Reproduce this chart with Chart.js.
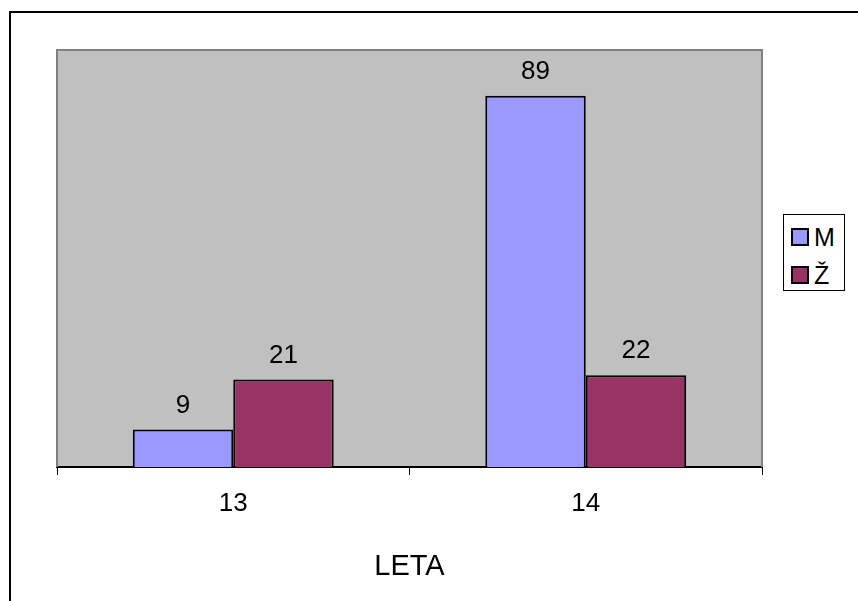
<!DOCTYPE html>
<html>
<head>
<meta charset="utf-8">
<script src="https://cdn.jsdelivr.net/npm/chart.js@4/dist/chart.umd.min.js"></script>
<style>
  html, body { margin: 0; padding: 0; background: #ffffff; }
  #wrap { position: relative; width: 858px; height: 601px; overflow: hidden; }
  #frame { position: absolute; left: 9px; top: 11px; width: 900px; height: 700px;
           border-left: 2px solid #000; border-top: 2px solid #000; pointer-events: none; }
  #legend { position: absolute; left: 783px; top: 214px; width: 62px; height: 77px;
            border: 1px solid #000; background: #fff; box-sizing: border-box;
            font-family: "Liberation Sans", Arial, sans-serif; font-size: 25px; color: #000; }
  .item { position: absolute; left: 7px; height: 20px; display: flex; align-items: center; }
  .sw { width: 14px; height: 14px; border: 2px solid #000; margin-right: 5px; }
</style>
</head>
<body>
<div id="wrap">
  <canvas id="c" width="858" height="601"></canvas>
  <div id="legend"></div>
  <div id="frame"></div>
</div>
<script>
// Age groups and counts per gender
const categories = ['13', '14'];
const seriesNames = ['M', 'Ž'];
const valuesM = [9, 89];
const valuesZ = [21, 22];
const seriesColors = ['#9999FF', '#993366'];
const axisTitle = 'LETA';
const yMax = 100;

const FONT = '"Liberation Sans", Arial, sans-serif';

// Grey plot background with a darker frame on the left, top and right
const plotBackground = {
  id: 'plotBackground',
  beforeDraw(chart) {
    const { ctx, chartArea: a } = chart;
    ctx.save();
    ctx.fillStyle = '#C0C0C0';
    ctx.fillRect(a.left, a.top, a.right - a.left, a.bottom - a.top);
    ctx.restore();
  },
  beforeDatasetsDraw(chart) {
    const { ctx, chartArea: a } = chart;
    ctx.save();
    ctx.strokeStyle = '#808080';
    ctx.lineWidth = 2;
    ctx.beginPath();
    ctx.moveTo(a.left, a.bottom);
    ctx.lineTo(a.left, a.top);
    ctx.lineTo(a.right, a.top);
    ctx.lineTo(a.right, a.bottom);
    ctx.stroke();
    ctx.restore();
  }
};

// Value labels above each bar
const valueLabels = {
  id: 'valueLabels',
  afterDatasetsDraw(chart) {
    const { ctx } = chart;
    ctx.save();
    ctx.fillStyle = '#000';
    ctx.font = '26px ' + FONT;
    ctx.textAlign = 'center';
    ctx.textBaseline = 'middle';
    chart.data.datasets.forEach((ds, i) => {
      chart.getDatasetMeta(i).data.forEach((bar, j) => {
        ctx.fillText(String(ds.data[j]), bar.x, bar.y - 24);
      });
    });
    ctx.restore();
  }
};

const chart = new Chart(document.getElementById('c'), {
  type: 'bar',
  data: {
    labels: categories,
    datasets: [
      { label: seriesNames[0], data: valuesM, backgroundColor: seriesColors[0] },
      { label: seriesNames[1], data: valuesZ, backgroundColor: seriesColors[1] }
    ]
  },
  options: {
    responsive: false,
    animation: false,
    devicePixelRatio: 1,
    layout: { padding: { left: 57, top: 50, right: 96, bottom: 0 } },
    datasets: {
      bar: {
        categoryPercentage: 0.57,
        barPercentage: 1,
        borderColor: '#000',
        borderWidth: 2,
        borderSkipped: 'start'
      }
    },
    plugins: {
      legend: { display: false },
      tooltip: { enabled: false }
    },
    scales: {
      y: { display: false, min: 0, max: yMax },
      x: {
        afterFit(scale) { scale.height = 134; },
        grid: {
          offset: true,
          drawOnChartArea: false,
          drawTicks: true,
          tickLength: 8,
          color: '#000',
          lineWidth: 1
        },
        border: { display: true, color: '#000', width: 2 },
        ticks: { color: '#000', font: { size: 26, family: FONT }, padding: 13 },
        title: {
          display: true, text: axisTitle, color: '#000',
          font: { size: 29, family: FONT }, padding: { top: 0, bottom: 17 }
        }
      }
    }
  },
  plugins: [plotBackground, valueLabels]
});

// Legend built from the chart's datasets
const legend = document.getElementById('legend');
chart.data.datasets.forEach((ds, i) => {
  const item = document.createElement('div');
  item.className = 'item';
  item.style.top = (12 + i * 38) + 'px';
  const sw = document.createElement('div');
  sw.className = 'sw';
  sw.style.background = ds.backgroundColor;
  const tx = document.createElement('span');
  tx.textContent = ds.label;
  item.appendChild(sw);
  item.appendChild(tx);
  legend.appendChild(item);
});
</script>
</body>
</html>
